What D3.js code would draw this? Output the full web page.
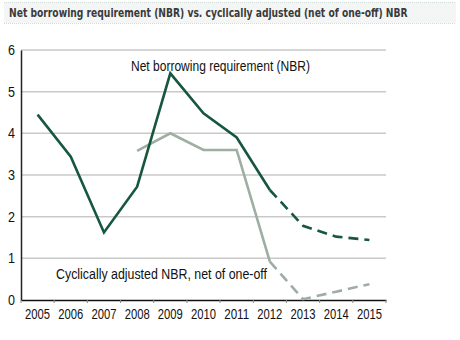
<!DOCTYPE html>
<html>
<head>
<meta charset="utf-8">
<script src="https://cdn.jsdelivr.net/npm/d3@7"></script>
<style>
  body { margin: 0; background: #fff; }
  svg { display: block; }
</style>
</head>
<body>
<div id="chart"></div>
<script>
// years along the bottom
var years = ["2005","2006","2007","2008","2009","2010","2011","2012","2013","2014","2015"]

// net borrowing requirement, actual then projected
var nbrActual = [4.45, 3.44, 1.62, 2.72, 5.44, 4.48, 3.9, 2.64]
var nbrProjected = [2.64, 1.78, 1.52, 1.44]

// cyclically adjusted NBR (net of one-off), starts in 2008
var adjActual = [3.58, 4.0, 3.6, 3.6, 0.92]
var adjProjected = [0.92, 0.02, 0.2, 0.38]

var yTicks = [0, 1, 2, 3, 4, 5, 6]

var title = "Net borrowing requirement (NBR) vs. cyclically adjusted (net of one-off) NBR"

var screen = {width: 460, height: 340}
var margins = {top: 50, bottom: 40, left: 21, right: 74}
var width = screen.width - margins.left - margins.right
var height = screen.height - margins.top - margins.bottom

var xScale = d3.scaleBand()
    .domain(years)
    .range([0, width])

var yScale = d3.scaleLinear()
    .domain([0, 6])
    .range([height, 0])

var svg = d3.select("#chart")
    .append("svg")
    .attr("width", screen.width)
    .attr("height", screen.height)

// title strip
svg.append("rect")
    .attr("x", 4).attr("y", 2)
    .attr("width", 452).attr("height", 21)
    .attr("fill", "#f3f6f5")
svg.selectAll("line.strip")
    .data([2, 23])
    .enter()
    .append("line")
    .attr("class", "strip")
    .attr("x1", 4).attr("x2", 456)
    .attr("y1", function(d) { return d + 0.5 })
    .attr("y2", function(d) { return d + 0.5 })
    .attr("stroke", "#cfdcd8")
    .attr("stroke-dasharray", "1,1")

// title squeezed horizontally to fit the strip
var titleG = svg.append("g")
var titleText = titleG.append("text")
    .attr("x", 0)
    .attr("y", 0)
    .attr("font-family", "DejaVu Sans Condensed, DejaVu Sans")
    .attr("font-size", 12)
    .attr("font-weight", "bold")
    .attr("fill", "#3a3a3a")
    .text(title)
var natural = titleText.node().getComputedTextLength()
titleG.attr("transform", "translate(9,17) scale(" + (399 / natural) + ",1)")

var plot = svg.append("g")
    .attr("transform", "translate(" + margins.left + "," + margins.top + ")")

// gridlines
plot.selectAll("line.grid")
    .data(yTicks.slice(1))
    .enter()
    .append("line")
    .attr("class", "grid")
    .attr("x1", 0).attr("x2", width)
    .attr("y1", function(d) { return yScale(d) })
    .attr("y2", function(d) { return yScale(d) })
    .attr("stroke", "#c9c9c9")
    .attr("stroke-width", 1.5)

var font = "Liberation Sans, Arial, sans-serif"

// y axis
var yAxis = d3.axisLeft(yScale)
    .tickValues(yTicks)
    .tickFormat(d3.format("d"))
    .tickSize(0)
    .tickPadding(6)
plot.append("g")
    .attr("class", "yaxis")
    .call(yAxis)
    .call(function(g) { g.select(".domain").attr("stroke", "#222").attr("stroke-width", 1.5) })
    .selectAll("text")
    .attr("font-family", font)
    .attr("font-size", 14)
    .attr("fill", "#111")
    .attr("textLength", 7)
    .attr("lengthAdjust", "spacingAndGlyphs")

// x axis, ticks between the categories
var xAxis = d3.axisBottom(xScale).tickSize(0).tickPadding(9)
var xg = plot.append("g")
    .attr("transform", "translate(0," + height + ")")
    .call(xAxis)
xg.select(".domain").attr("stroke", "#111").attr("stroke-width", 1.5)
xg.selectAll("text")
    .attr("font-family", font)
    .attr("font-size", 14)
    .attr("fill", "#111")
    .attr("textLength", 25)
    .attr("lengthAdjust", "spacingAndGlyphs")
xg.selectAll("line.sep")
    .data(years.concat(["end"]))
    .enter()
    .append("line")
    .attr("class", "sep")
    .attr("x1", function(d, i) { return i * xScale.step() })
    .attr("x2", function(d, i) { return i * xScale.step() })
    .attr("y1", 0).attr("y2", 3)
    .attr("stroke", "#888")

var cx = function(yr) { return xScale(yr) + xScale.bandwidth() / 2 }

var line = d3.line()
    .x(function(d) { return cx(d.year) })
    .y(function(d) { return yScale(d.value) })

var pair = function(vals, firstYear) {
    var start = years.indexOf(firstYear)
    return vals.map(function(v, i) { return {year: years[start + i], value: v} })
}

var series = [
    {data: pair(adjActual, "2008"), color: "#9eaea3", dash: null},
    {data: pair(adjProjected, "2012"), color: "#9eaea3", dash: "10,6"},
    {data: pair(nbrActual, "2005"), color: "#17573f", dash: null},
    {data: pair(nbrProjected, "2012"), color: "#17573f", dash: "10,6"}
]

plot.selectAll("path.series")
    .data(series)
    .enter()
    .append("path")
    .attr("class", "series")
    .attr("d", function(d) { return line(d.data) })
    .attr("fill", "none")
    .attr("stroke", function(d) { return d.color })
    .attr("stroke-width", 2.6)
    .attr("stroke-dasharray", function(d) { return d.dash })

// series labels
svg.append("text")
    .attr("x", 131).attr("y", 71)
    .attr("font-family", font)
    .attr("font-size", 14)
    .attr("fill", "#111")
    .attr("textLength", 179)
    .attr("lengthAdjust", "spacingAndGlyphs")
    .text("Net borrowing requirement (NBR)")
svg.append("text")
    .attr("x", 56).attr("y", 279)
    .attr("font-family", font)
    .attr("font-size", 14)
    .attr("fill", "#111")
    .attr("textLength", 211)
    .attr("lengthAdjust", "spacingAndGlyphs")
    .text("Cyclically adjusted NBR, net of one-off")
</script>
</body>
</html>
